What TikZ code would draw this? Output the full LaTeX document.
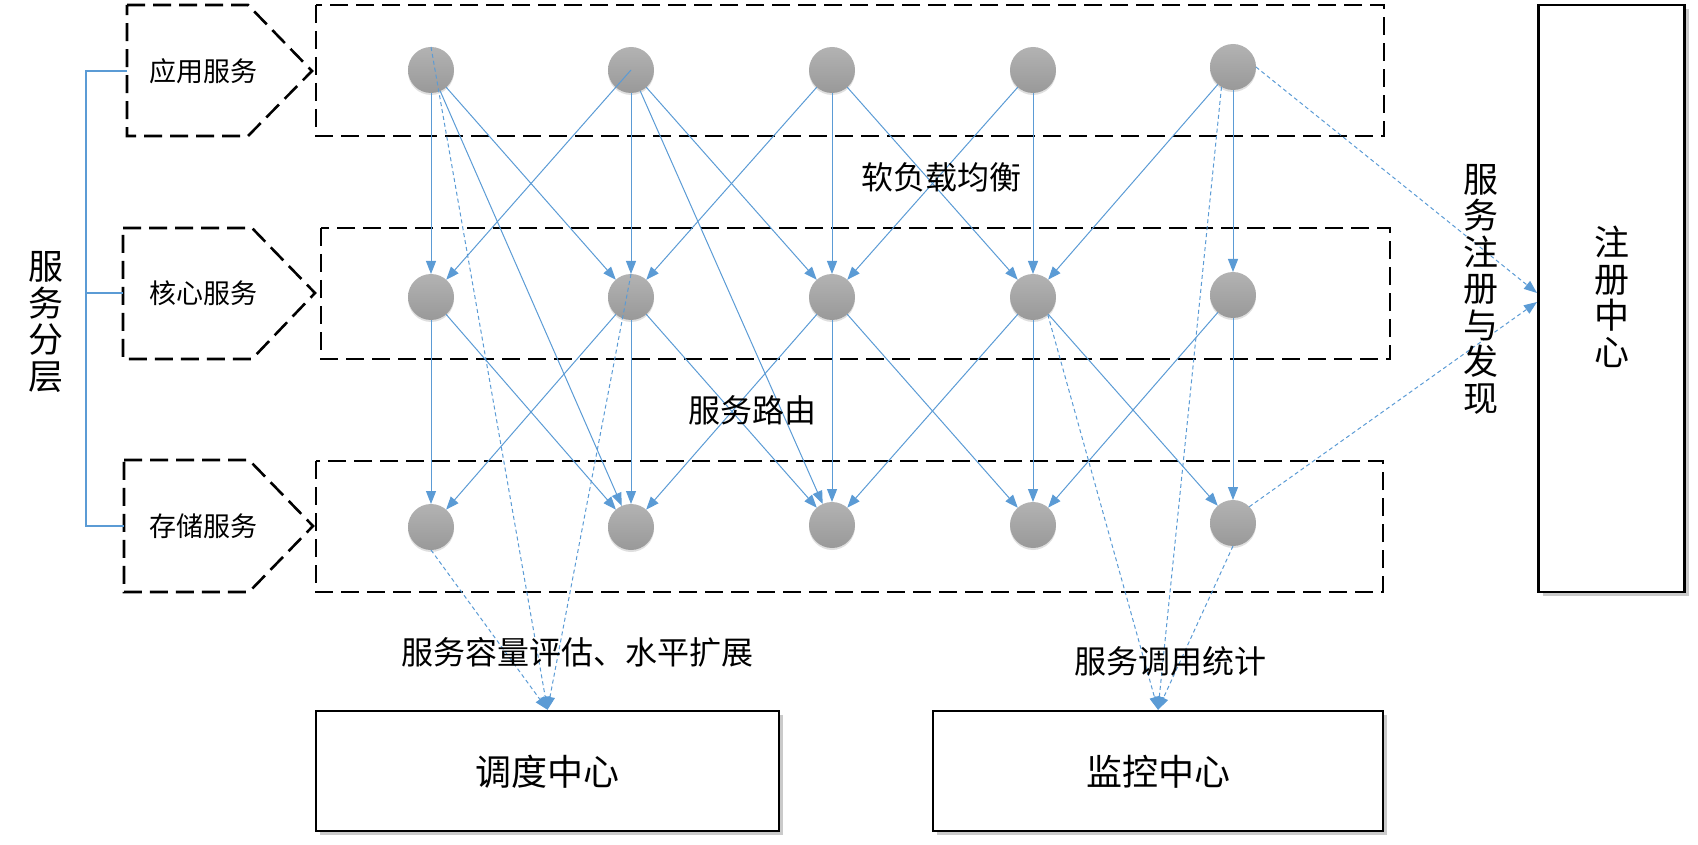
\documentclass[tikz,border=0pt]{standalone}
\usepackage{fontspec}
\setmainfont{Noto Sans CJK SC}
\usetikzlibrary{arrows.meta,shadows}
\definecolor{lblue}{HTML}{5B9BD5}
\begin{document}
\begin{tikzpicture}[x=1pt,y=-1pt,
  svc/.style={circle, minimum size=46pt, inner sep=0pt, outer sep=0pt,
    top color=gray!60, bottom color=gray!80, draw=none,
    drop shadow={shadow xshift=0pt, shadow yshift=-2pt, opacity=0.25}},
  link/.style={draw=lblue, line width=1pt, -{Triangle[length=13pt,width=10pt]}},
  dlink/.style={draw=lblue, line width=1pt, dash pattern=on 4pt off 3pt, -{Triangle[length=13pt,width=10pt]}},
  frame/.style={draw=black, line width=2.6pt, dash pattern=on 18pt off 8pt},
  box/.style={draw=black, line width=2.4pt, fill=white, inner sep=0pt,
    drop shadow={shadow xshift=4pt, shadow yshift=-4pt, fill=gray!70, opacity=0.6}},
  hexlab/.style={font=\fontsize{27}{30}\selectfont},
  midlab/.style={font=\fontsize{32}{36}\selectfont},
  boxlab/.style={font=\fontsize{36}{36}\selectfont, align=center},
  vlab/.style={font=\fontsize{35}{36.5}\selectfont, align=center}
]
\useasboundingbox (0,0) rectangle (1698,845);

% layer frames
\draw[frame] (316,5) rectangle (1384,136);
\draw[frame] (321,228) rectangle (1390,359);
\draw[frame] (316,461) rectangle (1383,592);

% arrow-shaped labels
\draw[frame] (127,5) -- (248,5) -- (312,71) -- (248,136) -- (127,136) -- cycle;
\draw[frame] (123,228) -- (252,228) -- (315,293) -- (252,359) -- (123,359) -- cycle;
\draw[frame] (124,460) -- (249,460) -- (313,526) -- (249,592) -- (124,592) -- cycle;
\node[hexlab] (h1) at (203,71) {应用服务};
\node[hexlab] (h2) at (203,293) {核心服务};
\node[hexlab] (h3) at (203,526) {存储服务};

% bracket
\draw[lblue, line width=1.2pt] (127,71) -- (86,71) -- (86,526) -- (124,526);
\draw[lblue, line width=1.2pt] (86,293) -- (123,293);
\node[vlab] (layer) at (46,322) {服\\务\\分\\层};

% service nodes
\node[svc] (A1) at (431,70) {};
\node[svc] (A2) at (631,70) {};
\node[svc] (A3) at (832,70) {};
\node[svc] (A4) at (1033,70) {};
\node[svc] (A5) at (1233,67) {};
\node[svc] (B1) at (431,297) {};
\node[svc] (B2) at (631,297) {};
\node[svc] (B3) at (832,297) {};
\node[svc] (B4) at (1033,297) {};
\node[svc] (B5) at (1233,295) {};
\node[svc] (C1) at (431,527) {};
\node[svc] (C2) at (631,527) {};
\node[svc] (C3) at (832,525) {};
\node[svc] (C4) at (1033,525) {};
\node[svc] (C5) at (1233,523) {};

% centre boxes
\node[box, minimum width=146pt, minimum height=587pt] (reg) at (1611.5,298.5) {};
\node[vlab] (regt) at (1612,297) {注\\册\\中\\心};
\node[box, minimum width=463pt, minimum height=120pt] (sched) at (547.5,771) {};
\node[boxlab] (schedt) at (547,772) {调度中心};
\node[box, minimum width=450pt, minimum height=120pt] (mon) at (1158,771) {};
\node[boxlab] (mont) at (1158,772) {监控中心};

% solid links app -> core -> storage
\draw[link] (A1) -- (B1);
\draw[link] (A1) -- (B2);
\draw[link] (A1) -- (C2);
\draw[link] (A2.center) -- (B1);
\draw[link] (A2) -- (B2);
\draw[link] (A2) -- (B3);
\draw[link] (A2) -- (C3);
\draw[link] (A3) -- (B2);
\draw[link] (A3) -- (B3);
\draw[link] (A3) -- (B4);
\draw[link] (A4) -- (B3);
\draw[link] (A4) -- (B4);
\draw[link] (A5) -- (B4);
\draw[link] (A5) -- (B5);
\draw[link] (B1) -- (C1);
\draw[link] (B1) -- (C2);
\draw[link] (B2) -- (C1);
\draw[link] (B2) -- (C2);
\draw[link] (B2) -- (C3);
\draw[link] (B3) -- (C2);
\draw[link] (B3) -- (C3);
\draw[link] (B3) -- (C4);
\draw[link] (B4) -- (C3);
\draw[link] (B4) -- (C4);
\draw[link] (B4) -- (C5);
\draw[link] (B5) -- (C4);
\draw[link] (B5) -- (C5);

% dashed links
\coordinate (r1) at (1537,293);
\coordinate (r2) at (1537,302);
\draw[dlink] (A1.north) -- (sched.north);
\draw[dlink] (B2.north) -- (sched.north);
\draw[dlink] (C1.south) -- (sched.north);
\draw[dlink] (A5.240) -- (mon.north);
\draw[dlink] (B4.-50) -- (mon.north);
\draw[dlink] (C5.south) -- (mon.north);
\draw[dlink] (A5.east) -- (r1);
\draw[dlink] (C5.45) -- (r2);

% labels
\node[midlab] (lb) at (941,177) {软负载均衡};
\node[midlab] (rt) at (752,410) {服务路由};
\node[midlab] (cap) at (577,652) {服务容量评估、水平扩展};
\node[midlab] (stat) at (1170,661) {服务调用统计};
\node[vlab] (disc) at (1481,289) {服\\务\\注\\册\\与\\发\\现};
\end{tikzpicture}
\end{document}
